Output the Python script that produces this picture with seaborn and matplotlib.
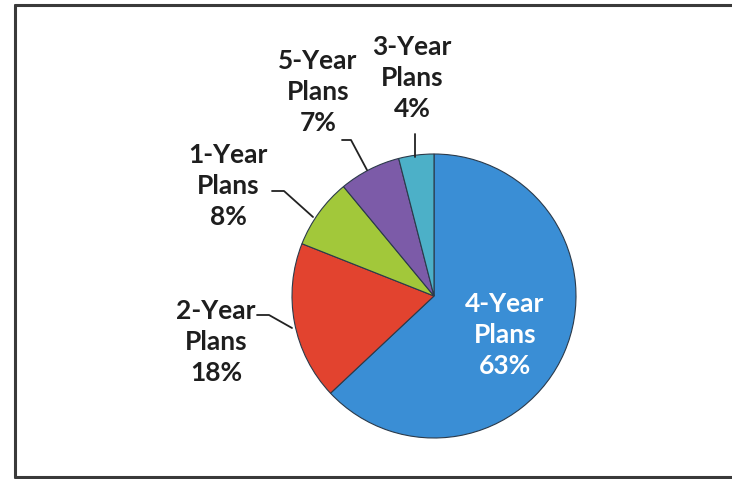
import numpy as np
import matplotlib
matplotlib.use("Agg")
import matplotlib.pyplot as plt
import seaborn as sns

# ---- data ----
categories = ["4-Year Plans", "2-Year Plans", "1-Year Plans", "5-Year Plans", "3-Year Plans"]
values = [63, 18, 8, 7, 4]
pct_labels = ["63%", "18%", "8%", "7%", "4%"]
colors = ["#3a8ed5", "#e2432f", "#a2c83a", "#7c5ba8", "#4cb0c8"]

sns.set_theme(style="white")
plt.rcParams["font.family"] = ["Lato", "DejaVu Sans"]

W, H = 732, 479
fig = plt.figure(figsize=(W / 100, H / 100), dpi=100)
ax = fig.add_axes([0, 0, 1, 1])

cx, cy, r = 434, H - 296, 142
wedges, _ = ax.pie(values, colors=colors, startangle=90, counterclock=False,
                   center=(cx, cy), radius=r, frame=True,
                   wedgeprops=dict(edgecolor="#2b3a4a", linewidth=0.8))
ax.set_xlim(0, W)
ax.set_ylim(0, H)
ax.set_aspect("equal")
ax.axis("off")

# label layout (pixel coords from top-left): x, y of the text block centre
layout = {
    "4-Year Plans": (505, 335, "white"),
    "2-Year Plans": (216, 342, "#1e1e1e"),
    "1-Year Plans": (228, 186, "#1e1e1e"),
    "5-Year Plans": (318, 92, "#1e1e1e"),
    "3-Year Plans": (412, 78, "#1e1e1e"),
}
for cat, pct in zip(categories, pct_labels):
    x, y, col = layout[cat]
    a, b = cat.split(" ")
    ax.text(x, H - y, f"{a}\n{b}\n{pct}", ha="center", va="center",
            fontsize=19, fontweight="bold", color=col, linespacing=1.33)

# leader lines (pixel coords from top-left)
leaders = [
    [(257, 315), (269, 315), (292, 328)],
    [(272, 191), (284, 191), (313, 217)],
    [(342, 140), (351, 140), (367, 170)],
    [(415, 134), (415, 157)],
]
for pts in leaders:
    xs = [p[0] for p in pts]
    ys = [H - p[1] for p in pts]
    ax.plot(xs, ys, color="#222222", lw=1.3)

# frame (left, top, bottom edges; right edge beyond image)
fc = "#3a3a3a"
ax.plot([15, 15], [H - 5, H - 477], color=fc, lw=2.2)
ax.plot([15, W + 5], [H - 5, H - 5], color=fc, lw=2.2)
ax.plot([15, W + 5], [H - 477, H - 477], color=fc, lw=2.2)

fig.savefig("out.png", dpi=100, facecolor="white")
